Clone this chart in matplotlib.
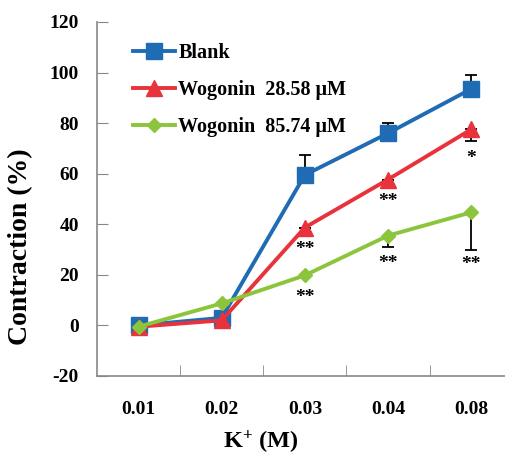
import numpy as np
import matplotlib.pyplot as plt

plt.rcParams['font.family'] = ['Liberation Serif', 'DejaVu Serif']
plt.rcParams['font.weight'] = 'bold'
plt.rcParams['axes.unicode_minus'] = False
plt.rcParams['mathtext.fontset'] = 'custom'
plt.rcParams['mathtext.rm'] = 'Liberation Serif:bold'
plt.rcParams['mathtext.bf'] = 'Liberation Serif:bold'
plt.rcParams['mathtext.default'] = 'bf'

conc = ['0.01', '0.02', '0.03', '0.04', '0.08']
blank = [0, 3, 59.5, 76, 93.5]
blank_err = [0, 0, 8, 4, 5.5]
wog1 = [-0.5, 2, 38.7, 57.7, 77.5]
wog1_err = [0, 0, 0, 0, 4.5]
wog2 = [-0.5, 8.7, 19.8, 35.5, 44.7]
wog2_err = [0, 0, 0, 4.5, 14.7]
labels = ['Blank', 'Wogonin  28.58 μM', 'Wogonin  85.74 μM']
# significance marks: (category index, y, text)
stars = [(2, 30, '**'), (2, 11, '**'), (3, 49, '**'), (3, 24.5, '**'),
         (4, 66, '*'), (4, 24, '**')]

c_blue = '#1f6cb4'
c_red = '#e8323c'
c_green = '#8cc43c'

fig = plt.figure(figsize=(5.06, 4.55), dpi=100)
ax = fig.add_axes([97/506, 79/455, 409/506, 354/455])
x = np.arange(len(conc))
z = np.zeros(len(conc))

ax.errorbar(x, blank, yerr=[z, blank_err], fmt='none', ecolor='black', elinewidth=1.3, capsize=4, capthick=1.3, zorder=1)
ax.errorbar(x, wog1, yerr=[wog1_err, z], fmt='none', ecolor='black', elinewidth=1.3, capsize=4, capthick=1.3, zorder=1)
ax.errorbar(x, wog2, yerr=[wog2_err, z], fmt='none', ecolor='black', elinewidth=1.3, capsize=4, capthick=1.3, zorder=1)

ax.plot(x, blank, color=c_blue, lw=2.8, marker='s', ms=11, label=labels[0], zorder=3)
ax.plot(x, wog1, color=c_red, lw=2.8, marker='^', ms=12, label=labels[1], zorder=4)
ax.plot(x, wog2, color=c_green, lw=2.8, marker='D', ms=7.5, label=labels[2], zorder=5)

for i, yy, s in stars:
    ax.text(x[i], yy, s, ha='center', va='center', fontsize=14, fontweight='bold')

ax.set_ylim(-20, 120)
ax.set_yticks(np.arange(-20, 121, 20))
ax.set_xlim(-0.5, 4.42)
ax.set_xticks(x)
ax.set_xticklabels(conc)
ax.set_xticks(np.arange(0.5, 4, 1), minor=True)
ax.tick_params(axis='x', which='major', length=0, labelsize=14, pad=18)
ax.tick_params(axis='x', which='minor', direction='in', length=8, color='#888888')
ax.tick_params(axis='y', direction='in', length=8, color='#888888', labelsize=14, pad=13)
for sp in ['top', 'right']:
    ax.spines[sp].set_visible(False)
for sp in ['left', 'bottom']:
    ax.spines[sp].set_color('#888888')
    ax.spines[sp].set_linewidth(1.2)

ax.set_ylabel('Contraction (%)', fontsize=20, fontweight='bold')
ax.yaxis.set_label_coords(-0.155, 0.365)
ax.set_xlabel(r'K$^{+}$ (M)', fontsize=17.5, fontweight='bold')
ax.xaxis.set_label_coords(0.40, -0.15)

ax.legend(loc='upper left', bbox_to_anchor=(133/506, 412/455), bbox_transform=fig.transFigure,
          frameon=False, fontsize=14.5, handlelength=2.1, handletextpad=0.15,
          labelspacing=0.85, borderpad=0, borderaxespad=0)

fig.savefig('out.png', dpi=100)
